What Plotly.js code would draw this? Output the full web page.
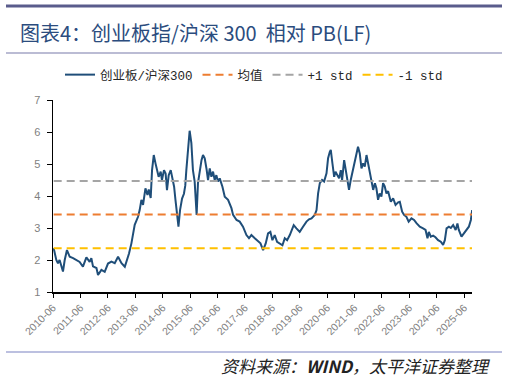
<!DOCTYPE html>
<html>
<head>
<meta charset="utf-8">
<script src="https://cdn.plot.ly/plotly-3.0.1.min.js"></script>
<style>
  html, body { margin: 0; padding: 0; background: #ffffff; }
  #chart { width: 507px; height: 379px; }
</style>
</head>
<body>
<div id="chart"></div>
<script>
// ---- data ----
const dates = [
  '2010-06-10','2010-07-15','2010-08-06','2010-08-28','2010-10-12','2010-11-04','2010-12-04',
  '2011-01-10','2011-02-24','2011-04-08','2011-05-22','2011-07-05','2011-08-20','2011-10-03','2011-10-25','2011-11-16',
  '2012-01-01','2012-01-22','2012-03-07','2012-04-20','2012-06-03','2012-07-18','2012-09-01','2012-10-15','2012-11-30',
  '2013-01-13','2013-02-13','2013-03-10','2013-04-11','2013-05-02','2013-05-25','2013-07-08','2013-07-30','2013-08-22',
  '2013-09-13','2013-10-15','2013-11-11','2013-11-28','2013-12-24',
  '2014-01-11','2014-02-03','2014-02-26','2014-03-17','2014-04-09','2014-05-06','2014-05-23','2014-06-19','2014-07-11',
  '2014-07-29','2014-08-21','2014-09-17','2014-10-09','2014-11-01','2014-11-19','2014-12-10','2014-12-29',
  '2015-01-19','2015-02-15','2015-03-12','2015-03-30','2015-04-13','2015-05-04','2015-05-27','2015-06-19','2015-07-10',
  '2015-08-02','2015-08-19','2015-08-28','2015-09-15','2015-10-08','2015-11-01','2015-11-21','2015-12-14',
  '2016-01-06','2016-01-27','2016-02-19','2016-03-12','2016-04-03','2016-04-25','2016-05-17','2016-06-08','2016-07-01',
  '2016-08-06','2016-09-06','2016-10-20','2016-12-04','2016-12-26',
  '2017-02-10','2017-03-24','2017-05-07','2017-06-22','2017-07-26','2017-08-27','2017-10-11','2017-11-24','2017-12-26',
  '2018-01-30','2018-03-06','2018-04-06','2018-05-07','2018-06-03','2018-07-04','2018-08-04','2018-09-10','2018-10-15',
  '2018-11-15','2018-12-16',
  '2019-01-21','2019-03-14','2019-04-19','2019-06-02','2019-07-16','2019-08-31','2019-10-04','2019-11-06','2019-12-20',
  '2020-01-12','2020-02-02','2020-02-25','2020-03-26','2020-04-22','2020-05-24','2020-06-14','2020-07-07','2020-07-20',
  '2020-08-12','2020-09-03','2020-09-21','2020-10-18','2020-11-08','2020-12-01','2020-12-18',
  '2021-01-14','2021-02-06','2021-02-28','2021-03-20','2021-04-12','2021-05-05','2021-05-26','2021-06-27','2021-07-18',
  '2021-08-10','2021-09-02','2021-09-24','2021-10-16','2021-11-08','2021-11-30','2021-12-22',
  '2022-01-14','2022-02-05','2022-02-28','2022-03-20','2022-04-11','2022-05-03','2022-05-26','2022-06-17','2022-07-09',
  '2022-08-01','2022-08-23','2022-09-28','2022-10-29','2022-11-30',
  '2023-01-04','2023-01-26','2023-02-26','2023-03-23','2023-04-24','2023-05-24','2023-06-30','2023-08-04','2023-09-05',
  '2023-10-19','2023-12-02',
  '2024-01-04','2024-01-30','2024-02-17','2024-03-14','2024-04-14','2024-05-15','2024-06-19','2024-07-25','2024-08-25',
  '2024-09-17','2024-10-10','2024-11-10','2024-12-06',
  '2025-01-06','2025-02-08','2025-03-04','2025-03-21','2025-04-27','2025-06-01','2025-07-03','2025-08-03','2025-08-30',
  '2025-09-16'
];
const ratio = [
  2.37,2.00,1.90,2.00,1.64,2.00,2.31,
  2.10,2.06,2.00,1.94,1.79,2.08,1.94,2.06,1.80,
  1.75,1.53,1.69,1.63,1.89,1.95,1.90,2.10,1.90,
  1.79,2.00,2.20,2.52,2.83,3.10,3.35,3.56,3.88,
  3.72,4.24,4.03,4.20,3.94,
  4.81,5.28,5.02,4.81,4.60,4.76,4.50,4.81,4.70,
  4.18,4.65,4.81,4.60,4.29,3.88,3.41,3.04,
  3.56,3.92,4.07,4.33,4.81,5.54,6.04,5.65,4.81,
  4.45,3.56,3.41,4.40,4.81,5.12,5.28,5.18,
  4.86,4.50,4.86,4.60,4.76,4.50,4.65,4.45,4.55,
  4.29,3.98,3.88,3.62,3.41,
  3.25,3.20,3.04,2.78,2.68,2.78,2.68,2.57,2.52,
  2.31,2.52,2.83,2.88,2.62,2.78,2.57,2.50,2.46,
  2.68,2.62,
  2.78,3.09,2.99,2.88,3.04,3.20,3.27,3.30,3.41,
  3.56,4.08,4.40,4.50,4.45,4.71,5.18,5.38,5.44,
  5.00,4.60,4.76,4.66,4.55,4.81,4.50,
  5.12,4.81,4.40,4.19,4.50,4.76,5.02,5.38,5.54,
  5.33,4.86,5.02,4.92,5.28,5.02,4.81,
  4.55,4.19,4.40,4.24,3.88,4.08,3.98,4.40,4.30,
  4.08,4.15,3.82,3.93,3.72,
  3.80,3.82,3.51,3.41,3.35,3.20,3.30,3.25,3.15,
  3.04,2.99,
  2.94,2.68,2.88,2.73,2.76,2.71,2.62,2.57,2.47,
  2.62,2.99,3.04,3.00,
  3.09,2.94,3.14,2.95,2.73,2.83,2.94,3.04,3.25,
  3.56
];
const seriesName = '创业板/沪深300';
const statNames = ['均值', '+1 std', '-1 std'];
const statValues = [3.42, 4.47, 2.37];
const statColors = ['#ED7D31', '#A5A5A5', '#FFC000'];
const tickDates = ['2010-06-01','2011-06-01','2012-06-01','2013-06-01','2014-06-01','2015-06-01','2016-06-01','2017-06-01',
  '2018-06-01','2019-06-01','2020-06-01','2021-06-01','2022-06-01','2023-06-01','2024-06-01','2025-06-01'];
const tickLabels = ['2010-06','2011-06','2012-06','2013-06','2014-06','2015-06','2016-06','2017-06',
  '2018-06','2019-06','2020-06','2021-06','2022-06','2023-06','2024-06','2025-06'];
const yTicks = [1, 2, 3, 4, 5, 6, 7];

// ---- traces ----
const traces = [{
  x: dates, y: ratio, type: 'scatter', mode: 'lines', name: seriesName,
  line: { color: '#1F4E79', width: 2 }
}];
statNames.forEach(function (n, i) {
  traces.push({
    x: [dates[0], dates[dates.length - 1]],
    y: [statValues[i], statValues[i]],
    type: 'scatter', mode: 'lines', name: n,
    line: { color: statColors[i], width: 2, dash: '8px,5px' }
  });
});

const W = 507, H = 379;
const L = 53, R = 472, T = 100, B = 292;
function px(xp) { return (xp - L) / (R - L); }
function py(yp) { return (B - yp) / (B - T); }

const layout = {
  width: W, height: H,
  margin: { l: L, r: W - R, t: T, b: H - B, pad: 0 },
  paper_bgcolor: '#ffffff', plot_bgcolor: '#ffffff',
  showlegend: true,
  font: { family: 'Liberation Sans, Noto Sans CJK SC, sans-serif', color: '#595959', size: 10 },
  title: {
    text: '图表4：创业板指/沪深 300  相对 PB(LF)',
    x: 20 / W, xanchor: 'left', xref: 'container',
    y: 1 - 34 / H, yanchor: 'middle', yref: 'container',
    font: { family: 'Noto Sans CJK SC, sans-serif', size: 20, color: '#2B4C7E' }
  },
  legend: {
    orientation: 'h', x: px(254), xanchor: 'center', y: py(75), yanchor: 'middle',
    font: { family: 'Liberation Mono, Noto Sans CJK SC, monospace', size: 12.5, color: '#262626' },
    itemwidth: 30, tracegroupgap: 0, bgcolor: 'rgba(0,0,0,0)'
  },
  xaxis: {
    type: 'date', range: ['2010-06-01', '2025-09-14'],
    tickmode: 'array', tickvals: tickDates, ticktext: tickLabels,
    tickangle: -45, ticks: 'outside', ticklen: 4, tickcolor: '#000000', tickwidth: 1,
    showline: true, linecolor: '#000000', linewidth: 1.5, showgrid: false, zeroline: false,
    tickfont: { size: 10.5, color: '#7F7F7F' }
  },
  yaxis: {
    range: [1, 7], tickmode: 'array', tickvals: yTicks,
    ticks: 'outside', ticklen: 5, tickcolor: '#000000', tickwidth: 1,
    showline: true, linecolor: '#000000', linewidth: 1.5, showgrid: false, zeroline: false,
    tickfont: { size: 11, color: '#7F7F7F' }, ticklabelstandoff: 4
  },
  shapes: [
    { type: 'line', xref: 'paper', yref: 'paper', x0: px(6), x1: px(502), y0: py(6), y1: py(6),
      line: { color: '#5A5C8C', width: 3 } },
    { type: 'line', xref: 'paper', yref: 'paper', x0: px(6), x1: px(502), y0: py(53), y1: py(53),
      line: { color: '#A4A6C6', width: 1.5 } },
    { type: 'line', xref: 'paper', yref: 'paper', x0: px(6), x1: px(502), y0: py(352), y1: py(352),
      line: { color: '#7B82C2', width: 1.2 } }
  ],
  annotations: [{
    text: '<i>资料来源：<b>WIND</b>，太平洋证券整理</i>',
    xref: 'paper', yref: 'paper', x: px(492), xanchor: 'right', y: py(365), yanchor: 'middle',
    showarrow: false, font: { family: 'Noto Sans CJK SC, sans-serif', size: 17, color: '#222222' }
  }]
};

Plotly.newPlot('chart', traces, layout, { staticPlot: true, displayModeBar: false });
</script>
</body>
</html>
